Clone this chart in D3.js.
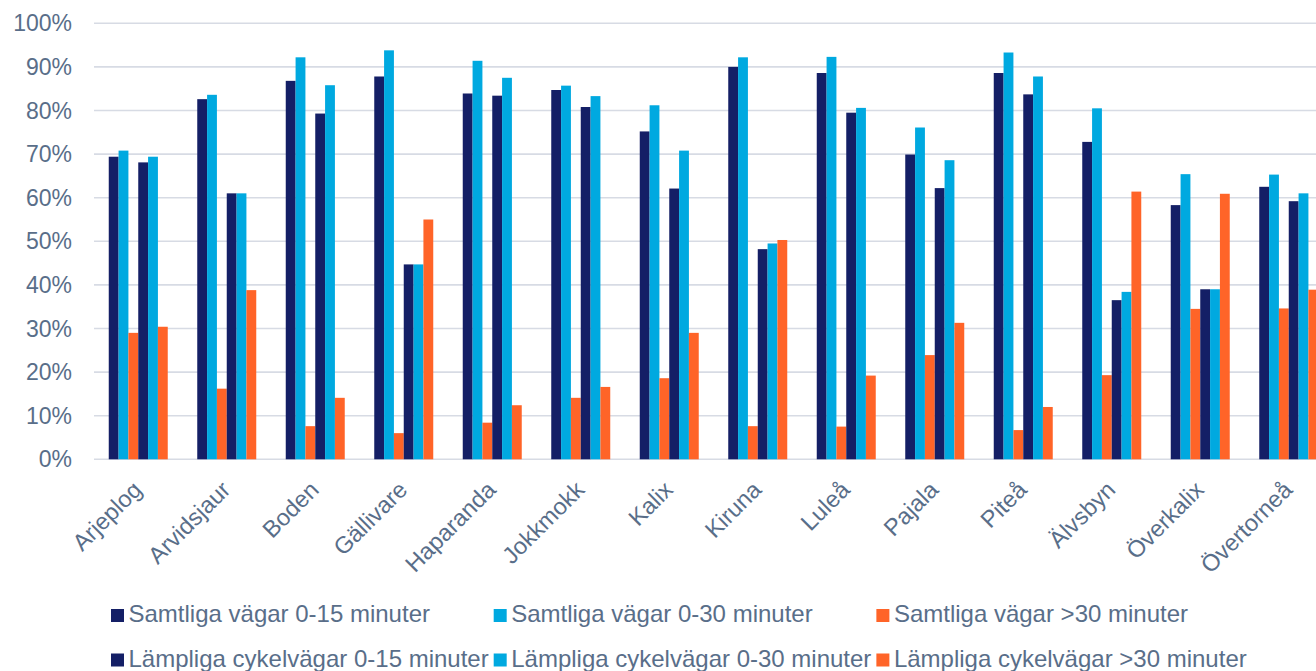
<!DOCTYPE html>
<html>
<head>
<meta charset="utf-8">
<script src="https://cdn.jsdelivr.net/npm/d3@7"></script>
<style>
  body { margin: 0; background: #fff; }
  svg { display: block; overflow: hidden; }
  text { font-family: "Liberation Sans", Arial, sans-serif; fill: #596e89; }
</style>
</head>
<body>
<div id="chart"></div>
<script>
// kommuner
var categories = ['Arjeplog', 'Arvidsjaur', 'Boden', 'Gällivare', 'Haparanda', 'Jokkmokk', 'Kalix',
    'Kiruna', 'Luleå', 'Pajala', 'Piteå', 'Älvsbyn', 'Överkalix', 'Övertorneå'];

// andel (%) per serie, läst ur bilden
var samtliga15 = [69.4, 82.6, 86.8, 87.8, 83.9, 84.7, 75.2, 90.0, 88.6, 69.9, 88.6, 72.8, 58.3, 62.5];
var samtliga30 = [70.8, 83.6, 92.2, 93.8, 91.4, 85.7, 81.2, 92.2, 92.3, 76.1, 93.3, 80.5, 65.4, 65.3];
var samtligaOver30 = [29.0, 16.2, 7.6, 6.0, 8.4, 14.1, 18.6, 7.6, 7.5, 23.9, 6.7, 19.3, 34.5, 34.6];
var lampliga15 = [68.1, 61.0, 79.3, 44.7, 83.4, 80.8, 62.1, 48.2, 79.5, 62.2, 83.7, 36.5, 39.0, 59.2];
var lampliga30 = [69.4, 61.0, 85.8, 44.7, 87.5, 83.3, 70.8, 49.5, 80.6, 68.6, 87.8, 38.4, 39.0, 61.0];
var lampligaOver30 = [30.4, 38.8, 14.1, 55.0, 12.4, 16.6, 29.0, 50.3, 19.2, 31.3, 12.0, 61.4, 60.9, 38.9];

var seriesNames = ['Samtliga vägar 0-15 minuter', 'Samtliga vägar 0-30 minuter', 'Samtliga vägar >30 minuter',
    'Lämpliga cykelvägar 0-15 minuter', 'Lämpliga cykelvägar 0-30 minuter', 'Lämpliga cykelvägar >30 minuter'];
var seriesValues = [samtliga15, samtliga30, samtligaOver30, lampliga15, lampliga30, lampligaOver30];
var colors = ['#141f66', '#00a9e0', '#ff6428', '#141f66', '#00a9e0', '#ff6428'];

var yTicks = [0, 10, 20, 30, 40, 50, 60, 70, 80, 90, 100];

var width = 1316, height = 671;
var plot = { left: 94, right: 1333, top: 23.3, bottom: 459.3 };

var svg = d3.select('#chart').append('svg')
    .attr('width', width)
    .attr('height', height);

var x0 = d3.scaleBand()
    .domain(categories)
    .range([plot.left, plot.right])
    .paddingInner(1 / 3)
    .paddingOuter(1 / 6);

var x1 = d3.scaleBand()
    .domain(d3.range(seriesNames.length))
    .range([0, x0.bandwidth()]);

var y = d3.scaleLinear()
    .domain([0, 100])
    .range([plot.bottom, plot.top]);

// gridlines
svg.append('g')
    .selectAll('line')
    .data(yTicks)
    .enter()
    .append('line')
    .attr('x1', plot.left)
    .attr('x2', plot.right)
    .attr('y1', function(d) { return y(d); })
    .attr('y2', function(d) { return y(d); })
    .attr('stroke', '#d7dbe4')
    .attr('stroke-width', 1.6);

// y axis labels
svg.append('g')
    .selectAll('text')
    .data(yTicks)
    .enter()
    .append('text')
    .attr('x', 72)
    .attr('y', function(d) { return y(d); })
    .attr('dy', '0.35em')
    .attr('text-anchor', 'end')
    .style('font-size', '23px')
    .text(function(d) { return d + '%'; });

// bars
var groups = svg.append('g')
    .selectAll('g')
    .data(categories)
    .enter()
    .append('g')
    .attr('transform', function(d) { return 'translate(' + x0(d) + ',0)'; });

groups.selectAll('rect')
    .data(function(d, i) {
        return seriesValues.map(function(vals, s) { return { s: s, v: vals[i] }; });
    })
    .enter()
    .append('rect')
    .attr('x', function(d) { return x1(d.s); })
    .attr('width', x1.bandwidth())
    .attr('y', function(d) { return y(d.v); })
    .attr('height', function(d) { return y(0) - y(d.v); })
    .attr('fill', function(d) { return colors[d.s]; });

// category labels, rotated
svg.append('g')
    .selectAll('text')
    .data(categories)
    .enter()
    .append('text')
    .attr('text-anchor', 'end')
    .style('font-size', '23.5px')
    .attr('transform', function(d) {
        var cx = x0(d) + x0.bandwidth() / 2 + 5;
        return 'translate(' + cx + ',' + (plot.bottom + 32) + ') rotate(-45)';
    })
    .text(function(d) { return d; });

// legend: 3 columns x 2 rows
var legend = svg.append('g');
var rowY = [622, 666.5];
var colX = [111];
var sw = 13, textGap = 17.5, colGap = 5;
var legendSize = '24px';

var measure = svg.append('text').style('font-size', legendSize);
for (var c = 0; c < 2; c++) {
    var maxW = 0;
    [seriesNames[c], seriesNames[c + 3]].forEach(function(n) {
        measure.text(n);
        maxW = Math.max(maxW, measure.node().getComputedTextLength());
    });
    colX.push(colX[c] + textGap + maxW + colGap);
}
measure.remove();

seriesNames.forEach(function(name, i) {
    var col = i % 3, row = Math.floor(i / 3);
    var item = legend.append('g')
        .attr('transform', 'translate(' + colX[col] + ',' + rowY[row] + ')');
    item.append('rect')
        .attr('x', 0)
        .attr('y', -sw)
        .attr('width', sw)
        .attr('height', sw)
        .attr('fill', colors[i]);
    item.append('text')
        .attr('x', textGap)
        .attr('y', 0)
        .style('font-size', legendSize)
        .text(name);
});
</script>
</body>
</html>
